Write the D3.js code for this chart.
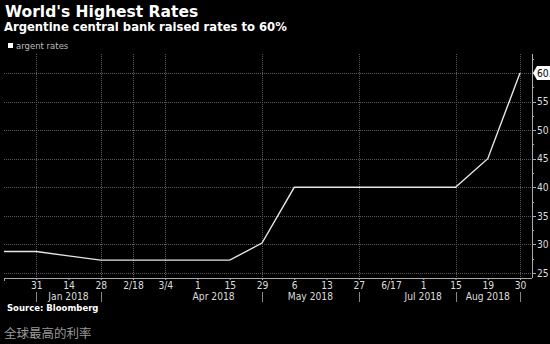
<!DOCTYPE html>
<html><head><meta charset="utf-8">
<script src="https://cdn.jsdelivr.net/npm/d3@7"></script>
<style>
html,body{margin:0;padding:0;background:#000;}
svg{display:block;}
</style></head>
<body>
<script>
// ---- data ----
const tickLabels = ["31","14","28","2/18","3/4","1","15","29","6","13","27","6/17","1","15","19","30"];
const seriesIndex = [-1, 0, 1, 2, 3, 4, 5, 6, 7, 8, 9, 10, 11, 12, 13, 14, 15];
const seriesValues = [28.75, 28.75, 28.0, 27.25, 27.25, 27.25, 27.25, 27.25, 30.25, 40, 40, 40, 40, 40, 40, 45, 60];
const monthLabels = ["Jan 2018","Apr 2018","May 2018","Jul 2018","Aug 2018"];
const monthFrom = [0, 4, 7, 11, 13];
const monthTo = [2, 7, 10, 13, 15];
const separators = [0, 2, 7, 10, 13, 15];
const vGrid = [0, 2, 3, 4, 7, 10, 13, 15];
const yTicks = [25, 30, 35, 40, 45, 50, 55];
const lastLabel = "60.00";
const title = "World's Highest Rates";
const subtitle = "Argentine central bank raised rates to 60%";
const legendLabel = "argent rates";
const source = "Source: Bloomberg";
const caption = "全球最高的利率";

(function () {
const W = 550, H = 344;
const svg = d3.select("body").append("svg").attr("width", W).attr("height", H);
svg.append("rect").attr("width", W).attr("height", H).attr("fill", "#000");

const pLeft = 4, pRight = 532, pTop = 54, pBottom = 278;
const x = d3.scaleLinear().domain([-1, 15]).range([4, 520]);
const y = d3.scaleLinear().domain([25, 60]).range([273, 73]);
const axisFont = "DejaVu Sans Condensed, DejaVu Sans";

// titles
svg.append("text").attr("x", 5).attr("y", 17).attr("fill", "#fff")
  .attr("font-family", "DejaVu Sans").attr("font-weight", "bold").attr("font-size", 15.5)
  .text(title);
svg.append("text").attr("x", 4).attr("y", 31).attr("fill", "#fff")
  .attr("font-family", "DejaVu Sans").attr("font-weight", "bold").attr("font-size", 11.6)
  .text(subtitle);

// legend
svg.append("rect").attr("x", 8).attr("y", 43).attr("width", 5).attr("height", 5).attr("fill", "#fff");
svg.append("text").attr("x", 16).attr("y", 49).attr("fill", "#bbb")
  .attr("font-family", "DejaVu Sans").attr("font-size", 8.5).text(legendLabel);

// horizontal grid
const hGridVals = yTicks.concat([60]);
svg.append("g").selectAll("line").data(hGridVals).join("line")
  .attr("x1", pLeft).attr("x2", pRight)
  .attr("y1", d => Math.round(y(d)) + 0.5).attr("y2", d => Math.round(y(d)) + 0.5)
  .attr("stroke", "#5a5a5a").attr("stroke-width", 1).attr("stroke-dasharray", "1,1");

// vertical grid
svg.append("g").selectAll("line").data(vGrid).join("line")
  .attr("x1", d => Math.round(x(d)) + 0.5).attr("x2", d => Math.round(x(d)) + 0.5)
  .attr("y1", pTop).attr("y2", pBottom)
  .attr("stroke", "#5a5a5a").attr("stroke-width", 1).attr("stroke-dasharray", "1,1");

// x axis
const xAxis = d3.axisBottom(x).tickValues(d3.range(tickLabels.length))
  .tickFormat(i => tickLabels[i]).tickSize(2).tickSizeOuter(0);
const gx = svg.append("g").attr("transform", `translate(0,${pBottom})`).call(xAxis);
gx.select(".domain").remove();
gx.selectAll(".tick line").attr("stroke", "#aaa");
gx.selectAll("text").attr("fill", "#ddd").attr("font-family", axisFont)
  .attr("font-size", 10.2).attr("dy", "0.55em");
svg.append("line").attr("x1", pLeft).attr("x2", pRight).attr("y1", pBottom + 0.5).attr("y2", pBottom + 0.5)
  .attr("stroke", "#aaa");
svg.append("line").attr("x1", pLeft + 0.5).attr("x2", pLeft + 0.5).attr("y1", pBottom).attr("y2", pBottom + 3)
  .attr("stroke", "#aaa");

// separators
svg.append("g").selectAll("line").data(separators).join("line")
  .attr("x1", d => Math.round(x(d)) + 0.5).attr("x2", d => Math.round(x(d)) + 0.5)
  .attr("y1", pBottom + 14).attr("y2", pBottom + 24)
  .attr("stroke", "#888");

// month labels
svg.append("g").selectAll("text").data(monthLabels).join("text")
  .attr("x", (d, i) => (x(monthFrom[i]) + x(monthTo[i])) / 2)
  .attr("y", pBottom + 22).attr("text-anchor", "middle")
  .attr("fill", "#ddd").attr("font-family", axisFont).attr("font-size", 10.2)
  .text(d => d);

// y axis
const yMinor = d3.range(25, 62.6, 2.5);
svg.append("line").attr("x1", pRight + 0.5).attr("x2", pRight + 0.5).attr("y1", pTop).attr("y2", pBottom)
  .attr("stroke", "#aaa");
svg.append("g").selectAll("line").data(yMinor).join("line")
  .attr("x1", pRight).attr("x2", d => pRight + (d % 5 === 0 ? 4 : 2))
  .attr("y1", d => Math.round(y(d)) + 0.5).attr("y2", d => Math.round(y(d)) + 0.5)
  .attr("stroke", "#aaa");
const yAxis = d3.axisRight(y).tickValues(yTicks).tickSize(0).tickPadding(5);
const gy = svg.append("g").attr("transform", `translate(${pRight},0)`).call(yAxis);
gy.select(".domain").remove();
gy.selectAll("text").attr("fill", "#ddd").attr("font-family", axisFont)
  .attr("font-size", 10.2);

// line
const line = d3.line().x((d, i) => x(seriesIndex[i])).y(d => y(d));
svg.append("path").datum(seriesValues).attr("d", line)
  .attr("fill", "none").attr("stroke", "#e6e6e6").attr("stroke-width", 1.4);

// last value callout
const ly = y(seriesValues[seriesValues.length - 1]);
const cx = pRight + 1;
svg.append("path")
  .attr("d", `M${cx},${ly} L${cx + 4},${ly - 7} L${cx + 26},${ly - 7} L${cx + 26},${ly + 7} L${cx + 4},${ly + 7} Z`)
  .attr("fill", "#fff");
svg.append("text").attr("x", cx + 4).attr("y", ly).attr("dy", "0.35em")
  .attr("fill", "#000").attr("font-family", axisFont).attr("font-size", 10.2)
  .text(lastLabel);

// source & caption
svg.append("text").attr("x", 7).attr("y", 311).attr("fill", "#fff")
  .attr("font-family", "DejaVu Sans").attr("font-weight", "bold").attr("font-size", 8.5)
  .text(source);
svg.append("text").attr("x", 4).attr("y", 338).attr("fill", "#999")
  .attr("font-family", "Noto Sans CJK SC").attr("font-size", 12.5)
  .text(caption);
})();
</script>
</body></html>
